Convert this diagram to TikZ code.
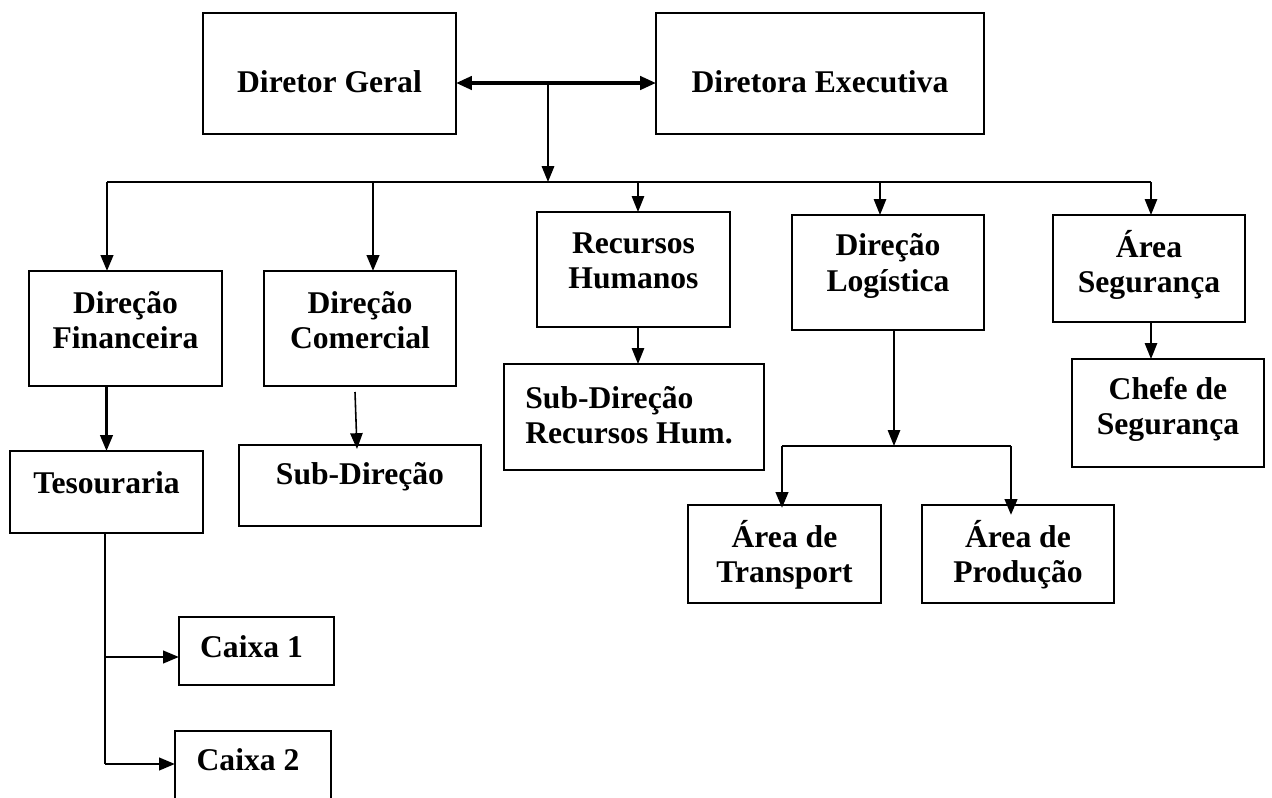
\documentclass[tikz,border=0pt]{standalone}
\usepackage{fontspec}
\setmainfont{Liberation Serif}
\usetikzlibrary{calc,arrows.meta}
\tikzset{
  caixa/.style={draw, line width=1pt, inner sep=0pt, outer sep=0pt},
  rotulo/.style={font=\fontsize{18}{20}\selectfont\bfseries, align=center, inner sep=0pt},
  seta/.style={-{Triangle[length=9pt,width=7pt]}, line width=0.9pt},
  setagrossa/.style={seta, line width=1.6pt},
  dupla/.style={{Triangle[length=9pt,width=7.5pt]}-{Triangle[length=9pt,width=7.5pt]}, line width=2pt},
}
\def\quadro(#1)(#2,#3)(#4,#5){\node[caixa, minimum width={(#4-#2)*0.02cm}, minimum height={(#5-#3)*0.02cm}] (#1) at ({(#2+#4)/2},{(#3+#5)/2}) {};}

\begin{document}
\begin{tikzpicture}[x=0.02cm, y=-0.02cm]
	%%%%% START %%%%%
	\path[use as bounding box, fill=white] (0,0) rectangle (1272,798);
	
	% direcao geral
	\quadro(dg)(203,13)(456,134)
	\quadro(de)(656,13)(984,134)
	\node[rotulo] (dgT) at ($(dg.north)+(0,69)$) {Diretor Geral};
	\node[rotulo] (deT) at ($(de.north)+(0,69)$) {Diretora Executiva};
	
	% direcoes
	\quadro(df)(29,271)(222,386)
	\quadro(dc)(264,271)(456,386)
	\quadro(rh)(537,212)(730,327)
	\quadro(dl)(792,215)(984,330)
	\quadro(seg)(1053,215)(1245,322)
	\node[rotulo] (dfT) at ($(df.north)+(0,49)$) {Direção\\Financeira};
	\node[rotulo] (dcT) at ($(dc.north)+(0,49)$) {Direção\\Comercial};
	\node[rotulo] (rhT) at ($(rh.north)+(0,49)$) {Recursos\\Humanos};
	\node[rotulo] (dlT) at ($(dl.north)+(0,51)$) {Direção\\Logística};
	\node[rotulo] (segT) at ($(seg.north)+(0,50)$) {Área\\Segurança};
	
	% sub-niveis
	\quadro(tes)(10,451)(203,533)
	\quadro(sd)(239,445)(481,526)
	\quadro(sdrh)(504,364)(764,470)
	\quadro(ch)(1072,359)(1264,467)
	\quadro(tr)(688,505)(881,603)
	\quadro(pr)(922,505)(1114,603)
	\quadro(cx1)(179,617)(334,685)
	\quadro(cx2)(175,731)(331,812)
	\node[rotulo] (tesT) at ($(tes.north)+(0,32)$) {Tesouraria};
	\node[rotulo] (sdT) at ($(sd.north)+(0,32)$) {Sub-Direção};
	\node[rotulo, align=left, anchor=west] (sdrhT) at ($(sdrh.north west)+(21,51)$) {Sub-Direção\\Recursos Hum.};
	\node[rotulo] (chT) at ($(ch.north)+(0,50)$) {Chefe de\\Segurança};
	\node[rotulo] (trT) at ($(tr.north)+(0,50)$) {Área de\\Transport};
	\node[rotulo] (prT) at ($(pr.north)+(0,50)$) {Área de\\Produção};
	\node[rotulo] (cx1T) at ($(cx1.north)+(-5,30)$) {Caixa 1};
	\node[rotulo] (cx2T) at ($(cx2.north)+(-5,29)$) {Caixa 2};
	
	% ligacoes de topo
	\coordinate (eixo) at (548,83);
	\coordinate (barra) at (548,182);
	\draw[dupla] (eixo -| dg.east) -- (eixo -| de.west);
	\draw[seta, line width=1.2pt] (eixo) -- (barra);
	
	\coordinate (b1) at (107,182);
	\coordinate (b2) at (373,182);
	\coordinate (b3) at (638,182);
	\coordinate (b4) at (880,182);
	\coordinate (b5) at (1151,182);
	\draw[line width=1.2pt] (b1) -- (b5);
	\draw[setagrossa] (b1) -- (b1 |- df.north);
	\draw[setagrossa] (b2) -- (b2 |- dc.north);
	\draw[seta] (b3) -- (b3 |- rh.north);
	\draw[seta] (b4) -- (b4 |- dl.north);
	\draw[seta] (b5) -- (b5 |- seg.north);
	
	% ligacoes para baixo
	\draw[setagrossa] (tes.north |- df.south) -- (tes.north);
	\draw[seta] ($(dc.south)+(-5,6)$) -- ($(sd.north)+(-3,4)$);
	\draw[seta] (b3 |- rh.south) -- (b3 |- sdrh.north);
	\draw[seta] (b5 |- seg.south) -- (b5 |- ch.north);
	
	% logistica
	\coordinate (l0) at (782,446);
	\coordinate (l1) at (894,446);
	\coordinate (l2) at (1011,446);
	\draw[seta] (l1 |- dl.south) -- (l1);
	\draw[line width=1.2pt] (l0) -- (l2);
	\draw[setagrossa] (l0) -- ($(l0 |- tr.north)+(0,3)$);
	\draw[setagrossa] (l2) -- ($(l2 |- pr.north)+(0,10)$);
	
	% caixas
	\coordinate (t1) at (105,657);
	\coordinate (t2) at (105,764);
	\draw[line width=0.9pt] (tes.south -| t1) -- (t2);
	\draw[setagrossa] (t1) -- (t1 -| cx1.west);
	\draw[setagrossa] (t2) -- (t2 -| cx2.west);
	%%%%% END %%%%%
\end{tikzpicture}
\end{document}
